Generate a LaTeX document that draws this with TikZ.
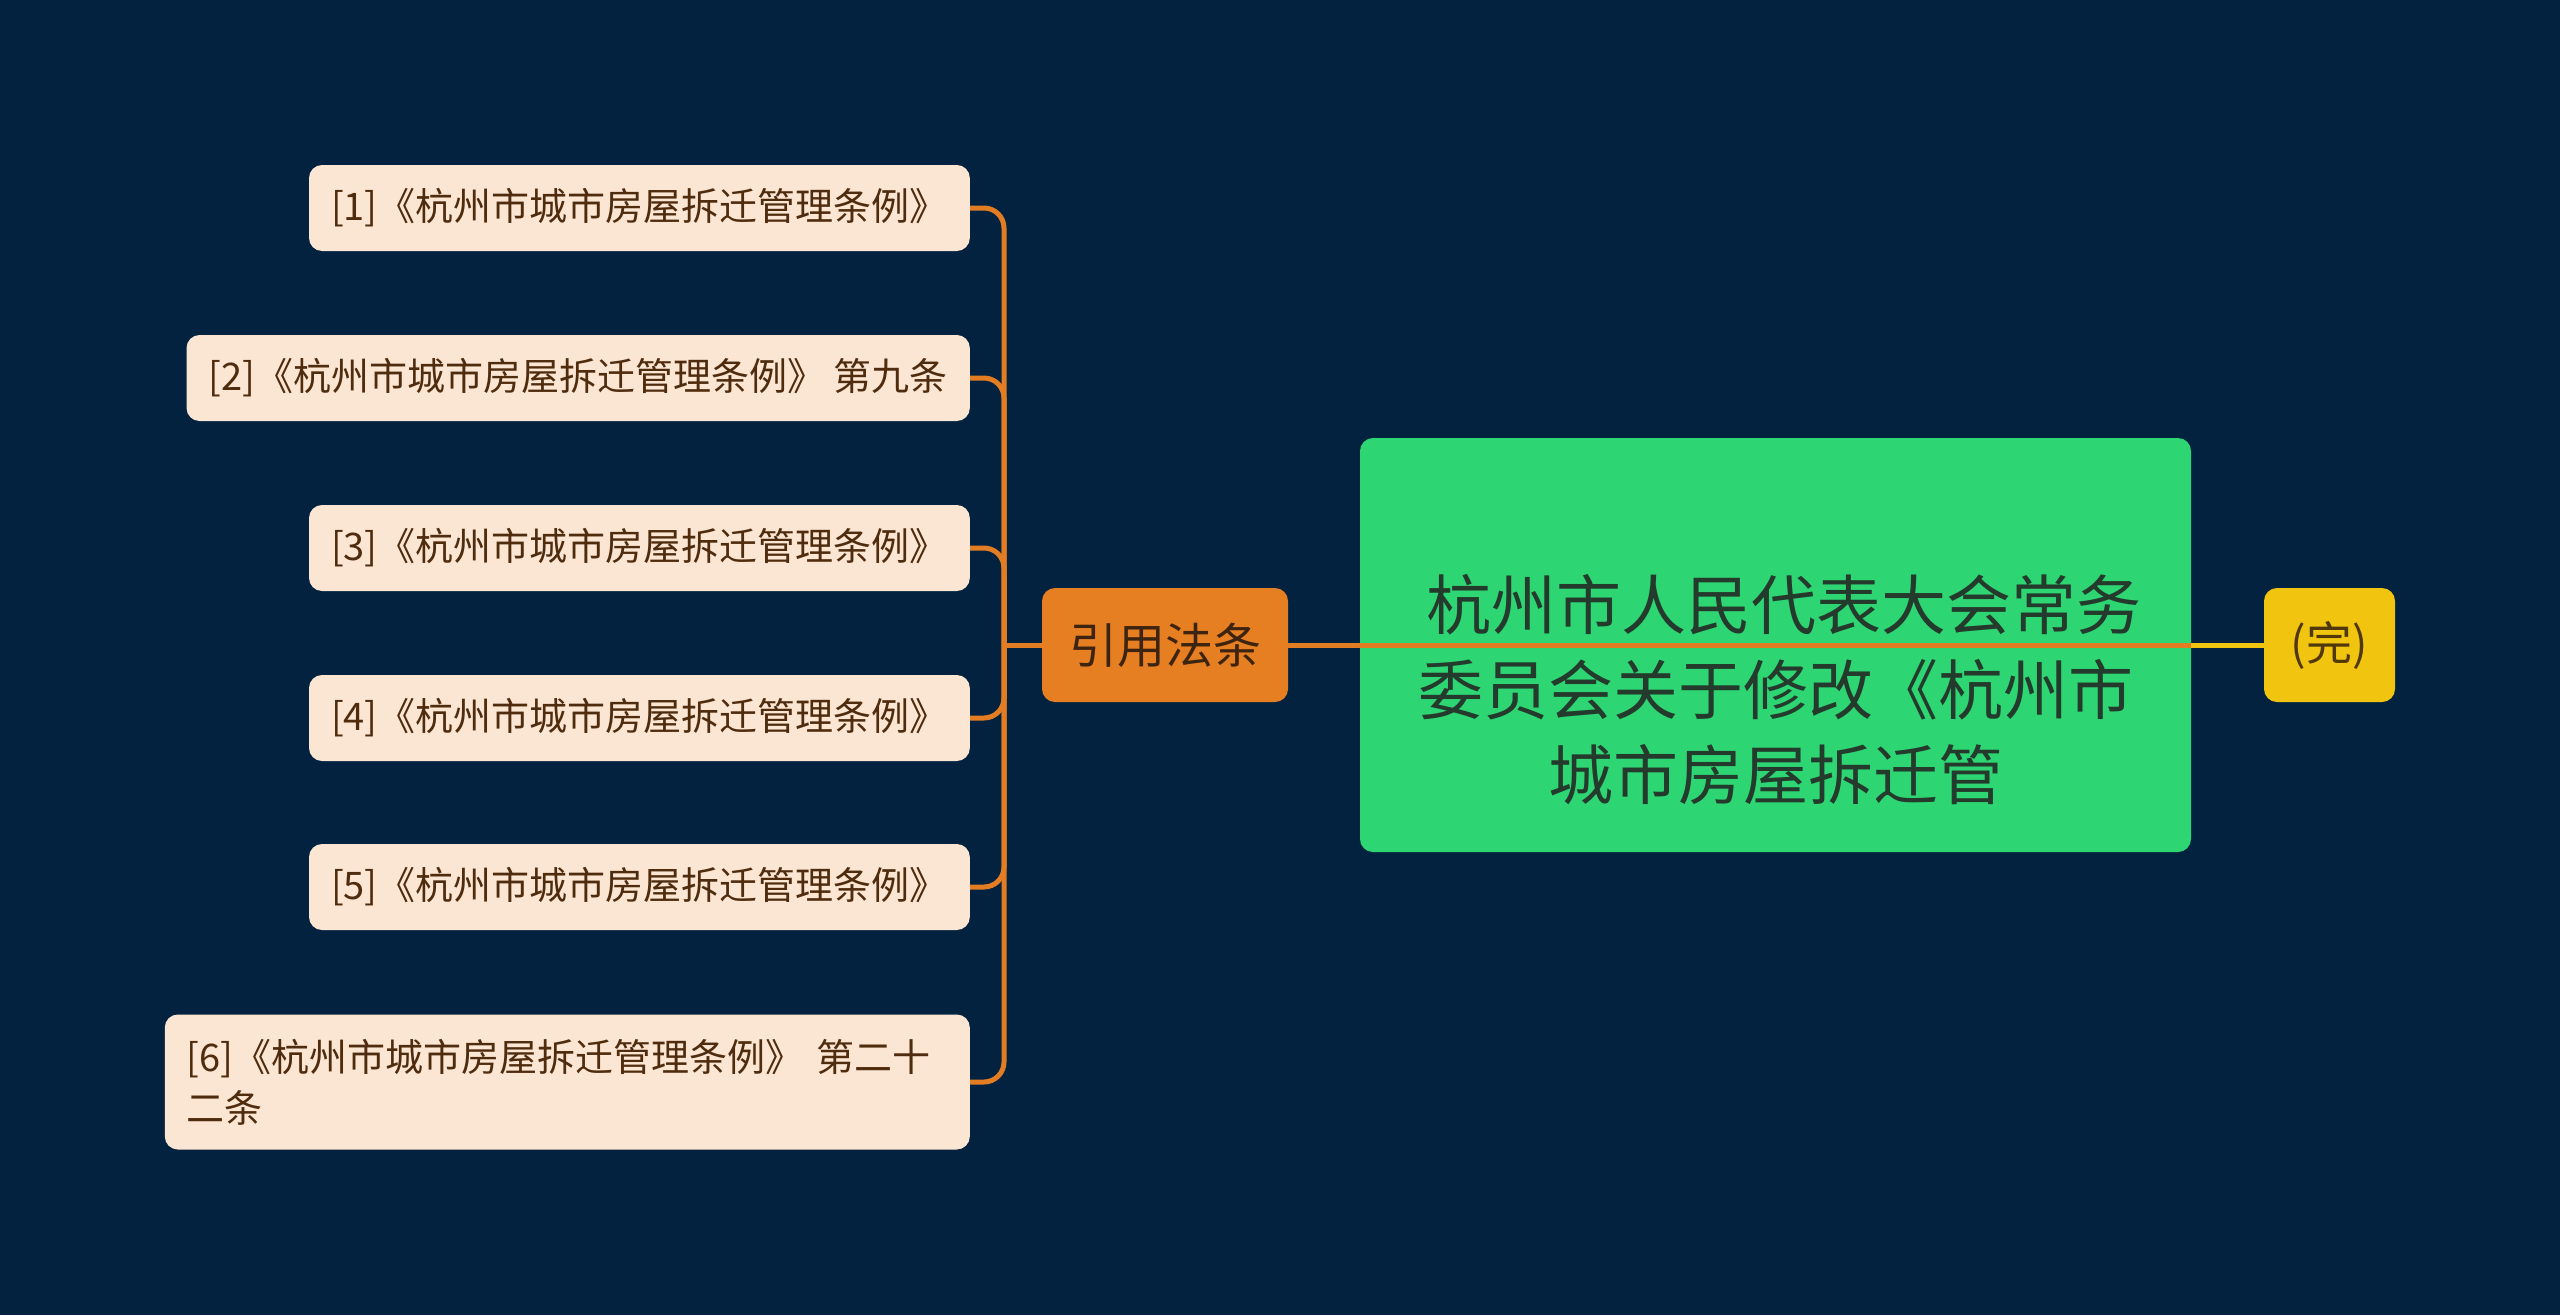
\documentclass[tikz,border=0pt]{standalone}
\usepackage{fontspec}
\setmainfont{Noto Sans CJK SC}
\definecolor{bg}{RGB}{2,34,63}
\definecolor{leaffill}{RGB}{251,230,212}
\definecolor{leaftext}{RGB}{80,44,14}
\definecolor{linkor}{RGB}{226,125,36}
\definecolor{rootfill}{RGB}{230,126,34}
\definecolor{roottext}{RGB}{60,36,16}
\definecolor{mainfill}{RGB}{46,213,115}
\definecolor{maintext}{RGB}{36,58,44}
\definecolor{endfill}{RGB}{241,196,15}
\definecolor{endtext}{RGB}{80,56,10}
\tikzset{
  leaf/.style={rounded corners=13pt, fill=leaffill, text=leaftext, inner xsep=22pt, inner ysep=0pt,
    minimum height=86pt, anchor=east, font=\fontsize{38}{51}\selectfont},
  link/.style={draw=linkor, line width=5pt, rounded corners=20pt},
}
\begin{document}
\begin{tikzpicture}[x=1pt,y=-1pt]
\fill[bg] (0,0) rectangle (2560,1315);
\useasboundingbox (0,0) rectangle (2560,1315);

\node[leaf] (l1) at (970,208) {[1]《杭州市城市房屋拆迁管理条例》};
\node[leaf] (l2) at (970,378) {[2]《杭州市城市房屋拆迁管理条例》 第九条};
\node[leaf] (l3) at (970,548) {[3]《杭州市城市房屋拆迁管理条例》};
\node[leaf] (l4) at (970,718) {[4]《杭州市城市房屋拆迁管理条例》};
\node[leaf] (l5) at (970,887) {[5]《杭州市城市房屋拆迁管理条例》};
\node[leaf, minimum height=135pt, text width=761pt, align=left] (l6) at (970,1082)
  {\mbox{[6]《杭州市城市房屋拆迁管理条例》 第二十}\\二条};

\node[rounded corners=13pt, fill=rootfill, text=roottext, minimum width=246pt, minimum height=114pt,
  font=\fontsize{48}{56}\selectfont] (root) at (1165,645) {引用法条};
\coordinate (j) at (1004,645);

\foreach \n in {l1,l2,l3,l4,l5,l6}{
  \draw[link] (\n.east) -| (j);
}
\draw[draw=linkor, line width=5pt] (j) -- (root.west);

\node[rounded corners=13pt, fill=mainfill, minimum width=831pt, minimum height=414pt] (main) at (1775.5,645) {};
\node[rounded corners=13pt, fill=endfill, text=endtext, minimum width=131pt, minimum height=114pt,
  font=\fontsize{46}{56}\selectfont] (end) at (2329.5,645) {(完)};

\draw[draw=linkor, line width=5pt] (root.east) -- (main.east);
\draw[draw=endfill, line width=5pt] (main.east) -- (end.west);

\node[align=center, text=maintext, font=\fontsize{65}{85}\selectfont] (maintxt) at (1776,690)
  {\hspace*{16pt}杭州市人民代表大会常务\\委员会关于修改《杭州市\\城市房屋拆迁管};
\end{tikzpicture}
\end{document}
